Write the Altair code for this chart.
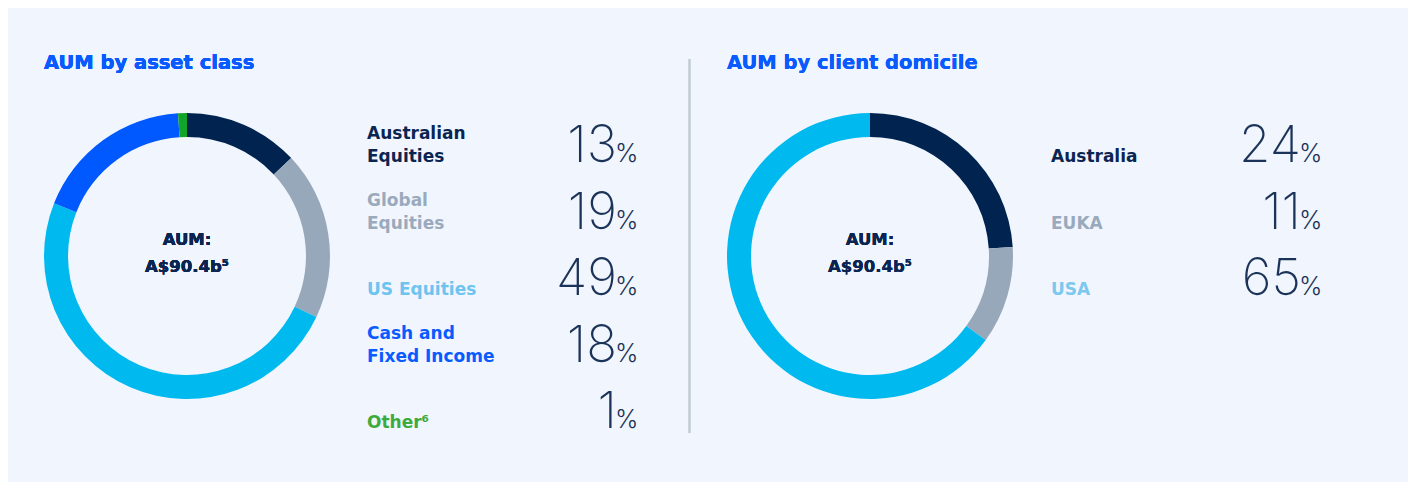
import altair as alt
import pandas as pd

# ---------------- data ----------------
asset_names = ["Australian Equities", "Global Equities", "US Equities", "Cash and Fixed Income", "Other"]
asset_label_top = ["Australian", "Global", "", "Cash and", ""]
asset_label_bottom = ["Equities", "Equities", "US Equities", "Fixed Income", "Other⁶"]
asset_values = [13, 19, 49, 18, 1]
asset_ring_colors = ["#00234F", "#97A8BA", "#00B9EE", "#0058FF", "#12A52B"]
asset_text_colors = ["#0B2552", "#9AAABD", "#6EC4EE", "#0A5BFF", "#3DAA3C"]

dom_names = ["Australia", "EUKA", "USA"]
dom_label_top = ["", "", ""]
dom_label_bottom = ["Australia", "EUKA", "USA"]
dom_values = [24, 11, 65]
dom_ring_colors = ["#00234F", "#97A8BA", "#00B9EE"]
dom_text_colors = ["#0B2552", "#9AAABD", "#7CC8EE"]

title_left = "AUM by asset class"
title_right = "AUM by client domicile"
center_label = "AUM:\nA$90.4b⁵"

# ---------------- style ----------------
BG = "#F1F6FE"
NAVY = "#0B2552"
TITLE_BLUE = "#0A5BFF"
NUM_COLOR = "#1B3358"
FONT = "DejaVu Sans"
NUM_FONT = "Inter"
W, H = 1400, 474

asset_df = pd.DataFrame({"cat": asset_names, "top": asset_label_top, "bottom": asset_label_bottom,
                         "value": asset_values, "row": list(range(len(asset_names)))})
dom_df = pd.DataFrame({"cat": dom_names, "top": dom_label_top, "bottom": dom_label_bottom,
                       "value": dom_values, "row": list(range(len(dom_names)))})

row_scale = alt.Scale(domain=[0, 4], range=[154, 420])
R_OUT, R_IN = 143, 119


def panel(df, ring_colors, text_colors, cx, label_x, num_x, title):
    ring = alt.Chart(df).mark_arc(outerRadius=R_OUT, innerRadius=R_IN).encode(
        x=alt.value(cx), y=alt.value(248),
        theta=alt.Theta("value:Q", stack=True),
        color=alt.Color("cat:N", scale=alt.Scale(domain=list(df["cat"]), range=ring_colors), legend=None),
        order=alt.Order("row:Q"),
    )
    label_color = alt.Color("cat:N", scale=alt.Scale(domain=list(df["cat"]), range=text_colors), legend=None)
    label_bottom = alt.Chart(df).mark_text(
        align="left", baseline="alphabetic", font=FONT, fontSize=17, fontWeight="bold", dy=0,
    ).encode(
        x=alt.value(label_x),
        y=alt.Y("row:Q", scale=row_scale, axis=None),
        text="bottom:N",
        color=label_color,
    )
    label_top = alt.Chart(df).mark_text(
        align="left", baseline="alphabetic", font=FONT, fontSize=17, fontWeight="bold", dy=-23,
    ).encode(
        x=alt.value(label_x),
        y=alt.Y("row:Q", scale=row_scale, axis=None),
        text="top:N",
        color=label_color,
    )
    nums = alt.Chart(df).mark_text(
        align="right", baseline="alphabetic", font=NUM_FONT, fontSize=51, fontWeight=200,
        color=NUM_COLOR,
    ).encode(
        x=alt.value(num_x),
        y=alt.Y("row:Q", scale=row_scale, axis=None),
        text=alt.Text("value:Q", format="d"),
    )
    pct = alt.Chart(df).mark_text(
        align="left", baseline="alphabetic", font=NUM_FONT, fontSize=25, fontWeight=300,
        color=NUM_COLOR, text="%",
    ).encode(
        x=alt.value(num_x - 2),
        y=alt.Y("row:Q", scale=row_scale, axis=None),
    )
    center = alt.Chart(df).mark_text(
        align="center", baseline="middle", lineBreak="\n", font=FONT, fontSize=16.5,
        fontWeight="bold", color=NAVY, lineHeight=27,
    ).encode(x=alt.value(cx), y=alt.value(232), text=alt.value(center_label))
    ttl = alt.Chart(df).mark_text(
        align="left", baseline="middle", font=FONT, fontSize=19.5, fontWeight="bold",
        color=TITLE_BLUE,
    ).encode(x=alt.value(cx - 143), y=alt.value(55), text=alt.value(title))
    return [ring, label_top, label_bottom, nums, pct, center, ttl]


left = panel(asset_df, asset_ring_colors, asset_text_colors, 179, 359, 609, title_left)
right = panel(dom_df, dom_ring_colors, dom_text_colors, 862, 1043, 1293, title_right)

divider = alt.Chart(asset_df).mark_rule(color="#C3CAD3", strokeWidth=1.5).encode(
    x=alt.value(681.5), y=alt.value(51), y2=alt.value(425)
)

chart = alt.layer(*left, *right, divider).resolve_scale(
    color="independent", theta="independent"
).properties(
    width=W, height=H, autosize=alt.AutoSizeParams(type="none"), padding=0,
    background=BG,
).configure_view(stroke=None)

chart.save("out.html", embed_options={"renderer": "svg", "actions": False})
